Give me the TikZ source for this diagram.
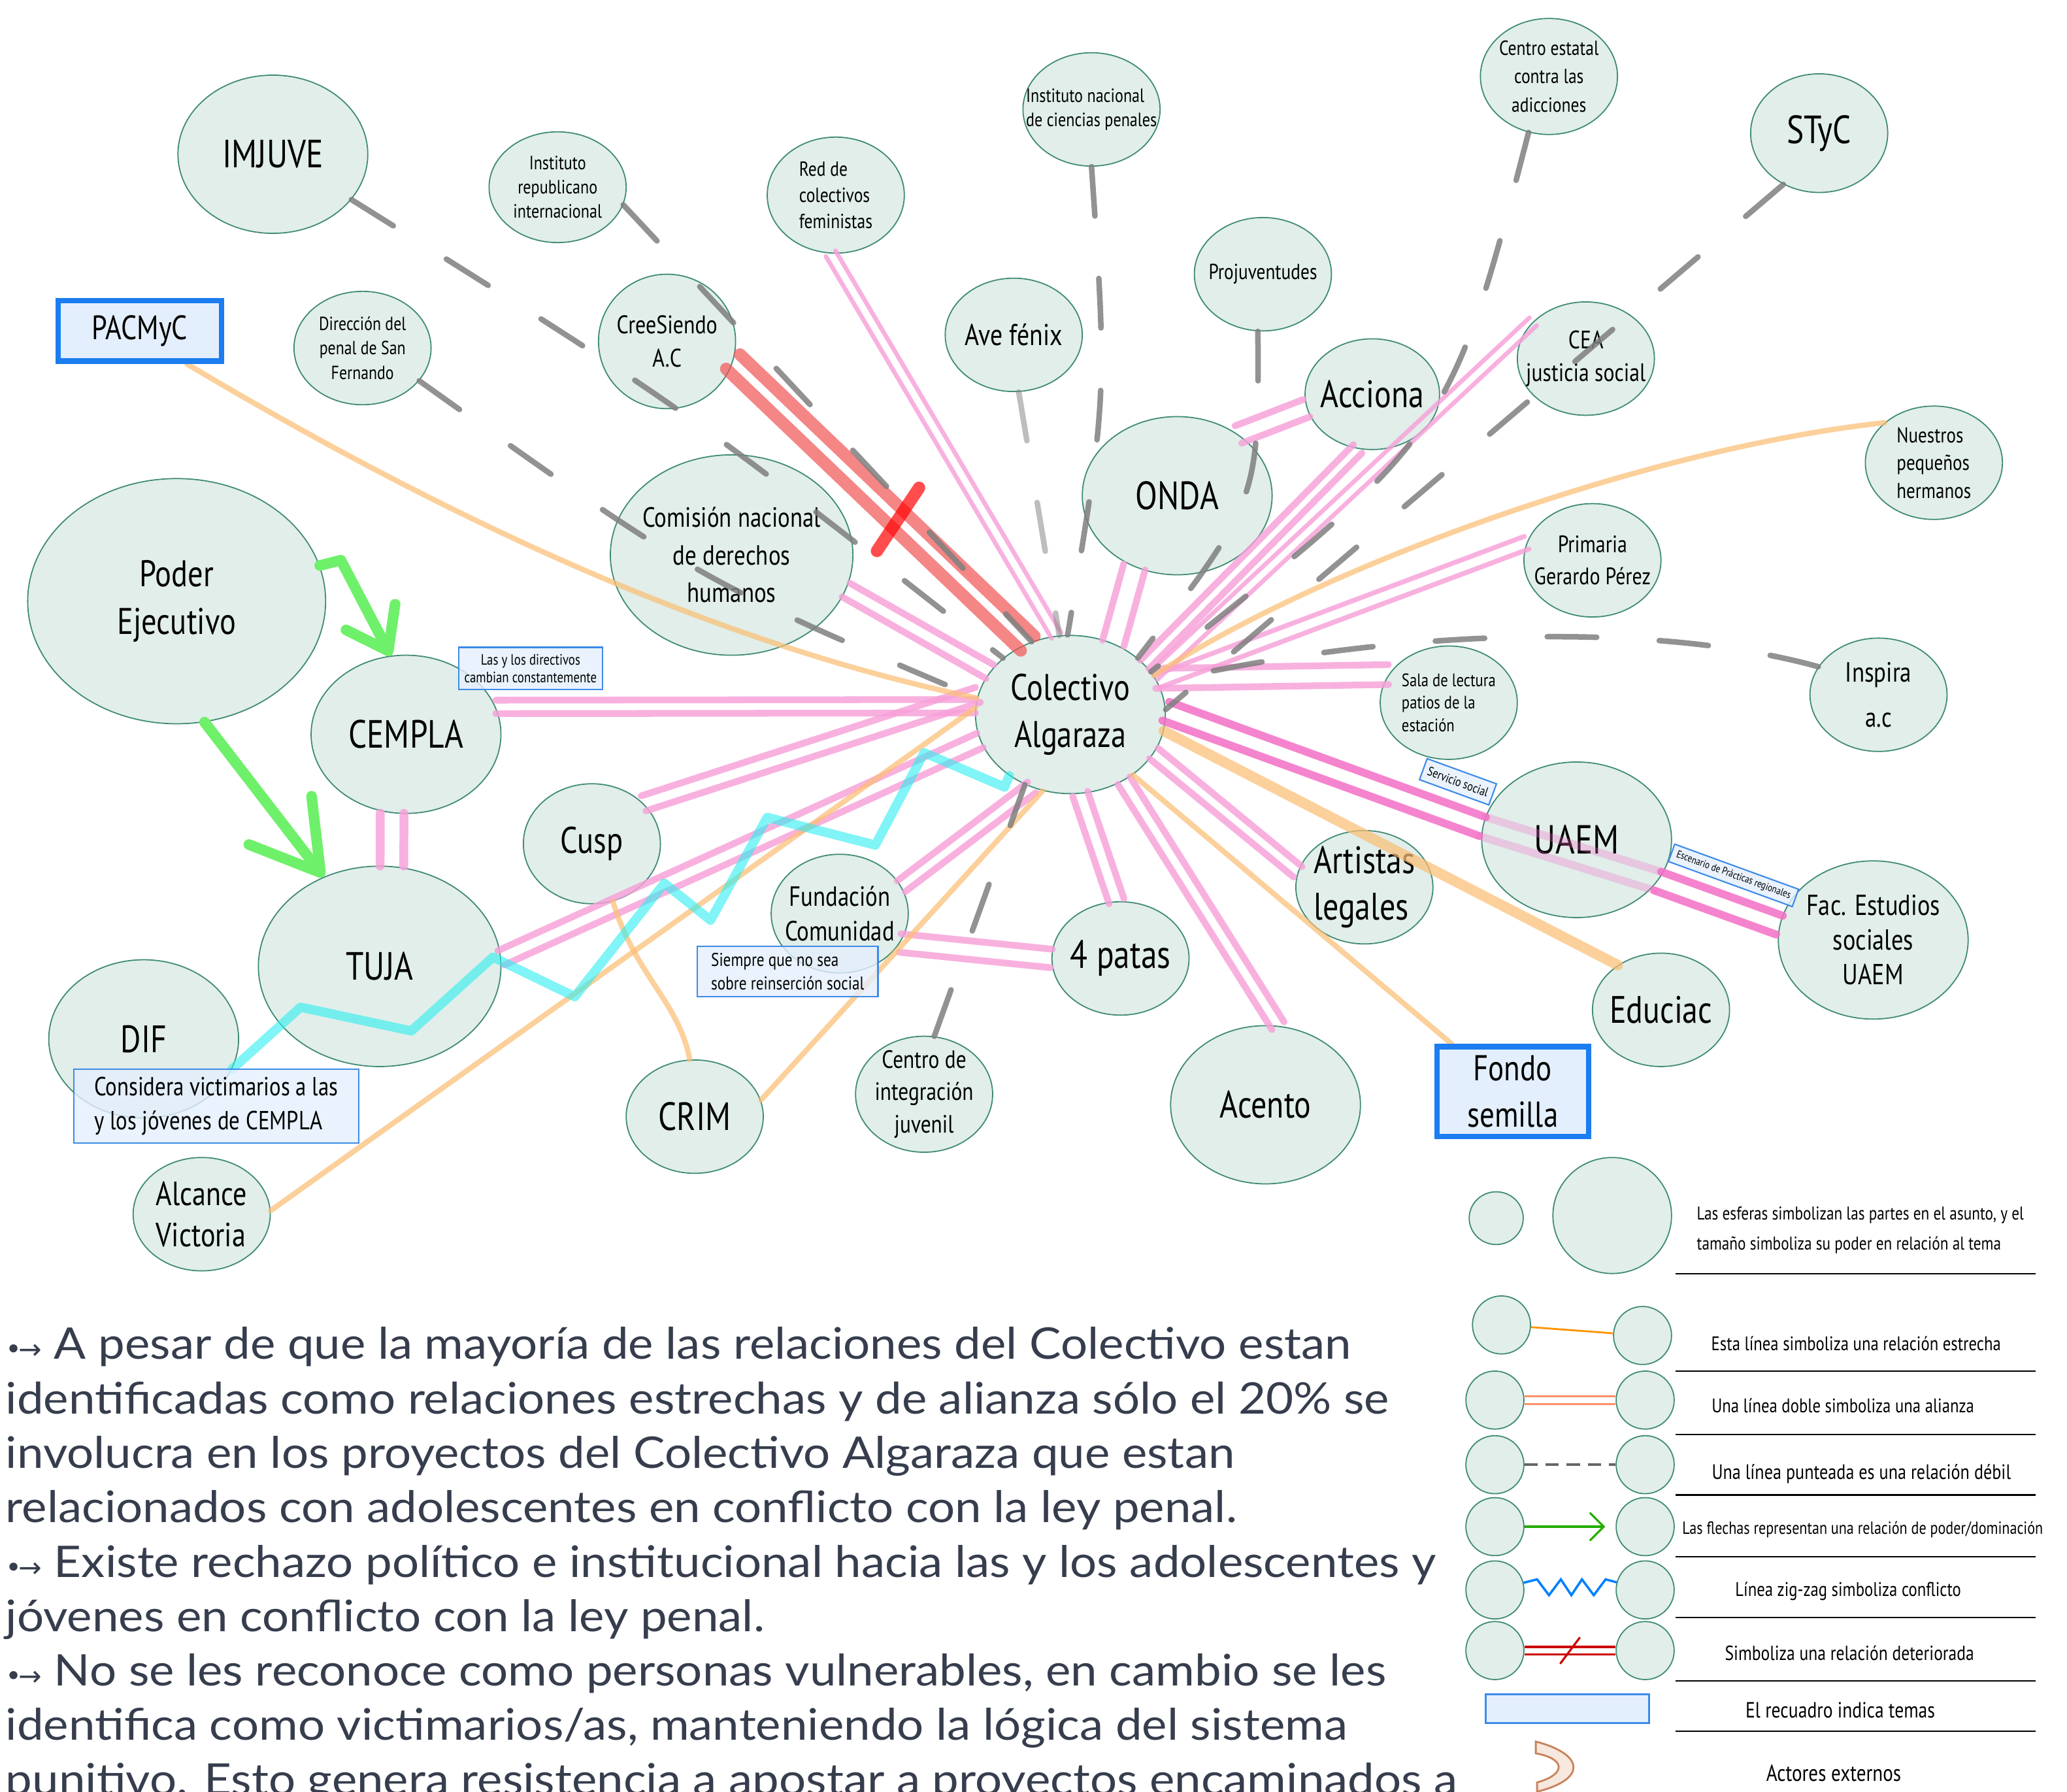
\documentclass[tikz,border=0pt]{standalone}
\usepackage{fontspec}
\setmainfont[FakeStretch=0.82]{PT Sans}
\newfontfamily\notafont[FakeStretch=1.09]{Lato}
\newfontfamily\flechafont{DejaVu Sans}
\usetikzlibrary{shapes.geometric,arrows.meta,calc}

\pgfdeclarelayer{front}
\pgfsetlayers{main,front}

\definecolor{nodefill}{HTML}{E1EEEA}
\definecolor{nodeline}{HTML}{3E8A74}
\definecolor{alipink}{HTML}{F7A1D9}
\definecolor{hotpink}{HTML}{F46FC6}
\definecolor{weakgray}{HTML}{7F7F7F}
\definecolor{closeorange}{HTML}{FBBF75}
\definecolor{powergreen}{HTML}{6EF06A}
\definecolor{conflictcyan}{HTML}{2CEEF0}
\definecolor{brokenred}{HTML}{F25454}
\definecolor{topicfill}{HTML}{E4EFFD}
\definecolor{topicline}{HTML}{3D8BE8}
\definecolor{strongblue}{HTML}{1B7DF0}
\definecolor{textgray}{HTML}{363D4D}
\definecolor{crescentfill}{HTML}{F6E8DE}
\definecolor{crescentline}{HTML}{C9825A}

% two parallel strokes between two points
\newcommand{\twin}[4]{%
  \path let \p1=($(#3)-(#2)$), \n1={atan2(\y1,\x1)} in \pgfextra{\xdef\twinang{\n1}};
  \draw[#1,transform canvas={shift={(\twinang+90:#4)}}] (#2) -- (#3);
  \draw[#1,transform canvas={shift={(\twinang-90:#4)}}] (#2) -- (#3);
}
\newcommand{\flechita}{{\flechafont\fontsize{12}{12}\selectfont •\kern-.12em→}}

\begin{document}
\begin{tikzpicture}[x=0.02cm, y=-0.02cm,
    actor/.style={ellipse, draw=nodeline, line width=0.5pt, fill=nodefill, inner sep=-12pt, align=center},
    esf/.style 2 args={actor, minimum width=#1*0.02cm, minimum height=#2*0.02cm},
    fs/.style 2 args={font=\fontsize{#1}{#2}\selectfont},
    tema/.style={rectangle, draw=topicline, line width=0.6pt, fill=topicfill, fill opacity=0.8, text opacity=1, inner sep=1pt, align=center},
    temafuerte/.style={tema, draw=strongblue, line width=2.4pt, fill opacity=1},
    alianza/.style={draw=alipink, line width=2.9pt, line cap=round, draw opacity=0.82},
    estrecha/.style={draw=closeorange, line width=2.3pt, line cap=round, draw opacity=0.72},
    debil/.style={draw=weakgray, line width=2.4pt, line cap=round, dash pattern=on 0.75cm off 0.95cm, draw opacity=0.85},
    poder/.style={draw=powergreen, line width=4.6pt, line cap=round, line join=round},
    conflicto/.style={draw=conflictcyan, line width=4pt, line cap=round, line join=round, draw opacity=0.6},
    deteriorada/.style={draw=brokenred, line width=5.3pt, line cap=round, draw opacity=0.7},
    nota/.style={font=\notafont\fontsize{18.8}{22}\selectfont, text=textgray, inner sep=0pt}]

  \fill[white] (0,0) rectangle (1568,1359);
  \useasboundingbox (0,0) rectangle (1568,1359);

  % actores
  \node[esf={144}{120}, fs={17}{21}] (imj) at (207,117) {IMJUVE};
  \node[esf={104}{84}, fs={8.3}{10.5}] (irep) at (423,142) {Instituto\\republicano\\internacional};
  \node[esf={104}{88}, fs={8.8}{11.4}, align=left] (red) at (634,148) {Red de\\colectivos\\feministas};
  \node[esf={104}{86}, fs={8.3}{10.3}, align=left] (inac) at (828,83) {Instituto nacional\\de ciencias penales};
  \node[esf={104}{88}, fs={8.8}{12.2}] (cest) at (1175,58) {Centro estatal\\contra las\\adicciones};
  \node[esf={104}{90}, fs={17}{21}] (styc) at (1380,101) {STyC};
  \node[esf={104}{86}, fs={9.4}{12}] (proj) at (958,208) {Projuventudes};
  \node[esf={104}{86}, fs={13}{16}] (avef) at (769,254) {Ave fénix};
  \node[esf={104}{102}, fs={11}{14.2}] (cree) at (506,259) {CreeSiendo\\A.C};
  \node[esf={104}{86}, fs={8.2}{10.5}] (dir) at (275,264) {Dirección del\\penal de San\\Fernando};
  \node[esf={102}{84}, fs={16.5}{20}] (acc) at (1041,299) {Acciona};
  \node[esf={104}{86}, fs={10.9}{14.2}] (cea) at (1203,272) {CEA\\justicia social};
  \node[esf={144}{120}, fs={17}{21}] (onda) at (893,376) {ONDA};
  \node[esf={184}{152}, fs={12}{16.2}] (com) at (555,421) {Comisión nacional\\de derechos\\humanos};
  \node[esf={226}{186}, fs={16}{20.5}] (pe) at (134,456) {Poder\\Ejecutivo};
  \node[esf={104}{86}, fs={9.3}{12}, align=left] (nph) at (1467,351) {Nuestros\\pequeños\\hermanos};
  \node[esf={104}{86}, fs={10.3}{13.7}] (prim) at (1208,425) {Primaria\\Gerardo Pérez};
  \node[esf={144}{120}, fs={16}{20.5}] (col) at (812,542) {Colectivo\\Algaraza};
  \node[esf={104}{86}, fs={7.8}{9.7}, align=left] (sala) at (1099,533) {Sala de lectura\\patios de la\\estación};
  \node[esf={104}{86}, fs={12}{19.4}] (insp) at (1425,527) {Inspira\\a.c};
  \node[esf={144}{120}, fs={17}{21}] (cempla) at (308,557) {CEMPLA};
  \node[esf={104}{91}, fs={16}{20}] (cusp) at (449,640) {Cusp};
  \node[esf={144}{118}, fs={17.5}{21}] (uaem) at (1196,637) {UAEM};
  \node[esf={104}{90}, fs={12}{14.8}] (fund) at (637,693) {Fundación\\Comunidad};
  \node[esf={104}{86}, fs={17}{21}] (patas) at (850,727) {4 patas};
  \node[esf={104}{86}, fs={16.5}{20}, align=left] (art) at (1035,673) {Artistas\\legales};
  \node[esf={144}{120}, fs={12.5}{15}] (fac) at (1421,713) {Fac. Estudios\\sociales\\UAEM};
  \node[esf={184}{152}, fs={17}{21}] (tuja) at (288,733) {TUJA};
  \node[esf={104}{86}, fs={16.5}{20}] (educ) at (1260,766) {Educiac};
  \node[esf={144}{120}, fs={16.5}{20}] (dif) at (109,788) {DIF};
  \node[esf={104}{88}, fs={10.8}{14}] (cint) at (701,830) {Centro de\\integración\\juvenil};
  \node[esf={104}{86}, fs={17}{21}] (crim) at (527,847) {CRIM};
  \node[esf={144}{120}, fs={16.5}{20}] (acento) at (960,838) {Acento};
  \node[esf={104}{86}, fs={14.5}{17.6}, align=left] (alc) at (153,921) {Alcance\\Victoria};

  % temas
  \begin{pgfonlayer}{front}
    \node[temafuerte, minimum width=2.48cm, minimum height=0.92cm, fs={14.6}{17}] (pac) at (106,251) {PACMyC};
    \node[temafuerte, minimum width=2.3cm, minimum height=1.36cm, fs={15.5}{20}] (fondo) at (1147.5,828) {Fondo\\semilla};
    \node[tema, minimum width=2.18cm, minimum height=0.64cm, fs={6.5}{7.6}] (dirbox) at (402.5,507) {Las y los directivos\\cambian constantemente};
    \node[tema, minimum width=2.74cm, minimum height=0.76cm, fs={8}{10.2}, align=left] (reins) at (597.5,737) {Siempre que no sea\\sobre reinserción social};
    \node[tema, minimum width=4.32cm, minimum height=1.12cm, fs={11.3}{14.8}, align=left] (vict) at (164,839) {Considera victimarios a las\\y los jóvenes de CEMPLA};
    \node[tema, rotate=-20, minimum width=1.12cm, minimum height=0.34cm, fs={5.5}{6}] (servicio) at (1106,593) {Servicio social};
    \node[tema, rotate=-20, minimum width=2cm, minimum height=0.28cm, fs={4.5}{5}] (escenario) at (1315,664) {Escenario de Prácticas regionales};
  \end{pgfonlayer}

  % alianzas
  \twin{alianza, line width=1.9pt}{red.265}{col.100}{2.4pt}
  \twin{alianza}{cempla.17}{col.175}{2.9pt}
  \twin{alianza}{com.-17}{col.152}{3.4pt}
  \twin{alianza}{cusp.38}{col.168}{3.4pt}
  \twin{alianza}{tuja.4}{col.196}{3.4pt}
  \twin{alianza}{fund.24}{col.242}{2.9pt}
  \twin{alianza}{col.277}{patas.94}{3.4pt}
  \twin{alianza}{col.309}{acento.81}{3.1pt}
  \twin{alianza}{col.335}{art.167}{2.9pt}
  \twin{alianza}{onda.239}{col.59}{4.8pt}
  \twin{alianza}{acc.255}{col.34}{2.6pt}
  \twin{alianza, line width=1.9pt}{cea.145}{col.25}{2.3pt}
  \twin{alianza, line width=2.1pt}{prim.165}{col.21}{2.9pt}
  \twin{alianza}{sala.155}{col.23}{4.3pt}
  \twin{alianza, line width=3.8pt}{cempla.260}{tuja.83}{5.1pt}
  \twin{alianza}{fund.334}{patas.180}{4pt}
  \twin{alianza}{onda.45}{acc.192}{4pt}
  \twin{alianza, draw=hotpink, line width=3.4pt, draw opacity=0.85}{col.2}{uaem.172}{4.3pt}
  \twin{alianza, draw=hotpink, line width=3.4pt, draw opacity=0.3}{uaem.172}{uaem.333}{4.3pt}
  \twin{alianza, draw=hotpink, line width=3.4pt, draw opacity=0.85}{uaem.333}{fac.171}{4.3pt}

  % relaciones estrechas
  \draw[estrecha] (pac.-35) .. controls (350,400) and (550,490) .. (col.170);
  \draw[estrecha] (nph.141) .. controls (1250,340) and (1000,430) .. (col.25);
  \draw[estrecha] (alc.3) -- (col.176);
  \draw[estrecha] (cusp.290) .. controls (482,740) and (515,760) .. (crim.95);
  \draw[estrecha] (crim.14) -- (col.250);
  \draw[estrecha] (col.316) -- (fondo.142);
  \draw[estrecha, line width=4.5pt] (col.350) -- (educ.134);

  % relacion deteriorada
  \twin{deteriorada}{cree.343}{col.121}{4.3pt}
  \coordinate (corte) at ($(cree.343)!0.56!(col.121)$);
  \draw[deteriorada, draw=red] ($(corte)+(16,-24)$) -- ($(corte)+(-16,24)$);

  % relaciones debiles
  \draw[debil] (imj.330) .. controls (520,310) .. (col.140);
  \draw[debil] (irep.345) -- (col.118);
  \draw[debil] (dir.330) .. controls (530,440) .. (col.170);
  \draw[debil] (inac.south) .. controls (840,300) .. (col.92);
  \draw[debil, draw opacity=0.5] (avef.275) -- (col.98);
  \draw[debil] (proj.265) .. controls (955,380) .. (col.40);
  \draw[debil] (cest.250) .. controls (1100,330) .. (col.28);
  \draw[debil] (styc.235) -- (col.3);
  \draw[debil] (insp.155) .. controls (1250,470) and (1050,478) .. (col.20);
  \draw[debil] (cint.80) -- (col.237);

  % conflicto
  \draw[conflicto] (dif.-19) -- (228,764) -- (312,782) -- (374,726) -- (436,756) -- (504,670)
    -- (539,698) -- (582,620) -- (664,641) -- (701,571) -- (762,597) -- (col.225);

  % poder
  \draw[poder, -{Straight Barb[length=5.8mm, width=8.4mm, round]}] (pe.14) -- ++(16,-4) -- (cempla.101);
  \draw[poder, -{Straight Barb[length=10mm, width=12mm, round]}] (pe.283) -- (tuja.122);

  % leyenda
  \node[esf={41}{40}] (l1-a) at (1135,924) {};
  \node[esf={90}{88}] (l1-b) at (1223,922) {};
  \node[esf={44}{44}] (l2-a) at (1139,1005) {};
  \node[esf={44}{44}] (l2-b) at (1246,1013) {};
  \foreach \fila/\ya in {3/1062,4/1111,5/1158,6/1206,7/1252} {
    \node[esf={44}{44}] (l\fila-a) at (1134,\ya) {};
    \node[esf={44}{44}] (l\fila-b) at (1248,\ya) {};
  }
  \draw[draw=orange!85!yellow, line width=0.8pt] (l2-a) -- (l2-b);
  \twin{draw=red!45!orange!60, line width=0.8pt}{l3-a}{l3-b}{1.7pt}
  \draw[draw=black!60, line width=1.1pt, dash pattern=on 0.2cm off 0.12cm] (l4-a) -- (l4-b);
  \draw[draw=green!60!black!80!lime, line width=0.9pt, shorten >=4.5pt,
    -{Straight Barb[length=2.1mm, width=4.2mm]}] (l5-a) -- (l5-b);
  \draw[draw=blue!50!cyan, line width=1pt] (l6-a) -- (1166,1198) -- (1175,1210) -- (1184,1198)
    -- (1192,1210) -- (1200,1198) -- (1209,1210) -- (1218,1198) -- (l6-b);
  \twin{draw=red!80!black, line width=0.9pt}{l7-a}{l7-b}{1.6pt}
  \draw[draw=red!80!black, line width=0.9pt] ($(l7-a)!0.5!(l7-b)$) ++(-7.5,10) -- ++(15,-20);
  \node[tema, fill opacity=1, line width=0.9pt, minimum width=2.48cm, minimum height=0.44cm] (l8) at (1189,1296) {};
  \filldraw[fill=crescentfill, draw=crescentline, line width=0.8pt] (1165,1321) .. controls (1203,1331) and (1203,1350) .. (1166,1359)
    -- (1166,1352) .. controls (1188,1346) and (1188,1334) .. (1165,1330) -- cycle;

  \foreach \yy in {966,1040,1088,1134,1181,1227,1275,1313}
    \draw[line width=0.6pt] (1271,\yy) -- (1544,\yy);

  \node[fs={8}{13}, align=left, anchor=west] (t1) at (1281,933) {Las esferas simbolizan las partes en el asunto, y el\\tamaño simboliza su poder en relación al tema};
  \node[fs={8.5}{10}] (t2) at (1408,1019) {Esta línea simboliza una relación estrecha};
  \node[fs={8.5}{10}] (t3) at (1398,1066) {Una línea doble simboliza una alianza};
  \node[fs={9}{10}] (t4) at (1412,1118) {Una línea punteada es una relación débil};
  \node[fs={7.6}{10}] (t5) at (1413,1160) {Las flechas representan una relación de poder/dominación};
  \node[fs={8.5}{10}] (t6) at (1402,1207) {Línea zig-zag simboliza conflicto};
  \node[fs={8.8}{10}] (t7) at (1403,1254) {Simboliza una relación deteriorada};
  \node[fs={9.5}{11}] (t8) at (1396,1297) {El recuadro indica temas};
  \node[fs={10}{12}] (t9) at (1391,1345) {Actores externos};

  % conclusiones
  \foreach \linea [count=\k] in {%
      {\flechita\ A pesar de que la mayoría de las relaciones del Colectivo estan},
      {identificadas como relaciones estrechas y de alianza sólo el 20\% se},
      {involucra en los proyectos del Colectivo Algaraza que estan},
      {relacionados con adolescentes en conflicto con la ley penal.},
      {\flechita\ Existe rechazo político e institucional hacia las y los adolescentes y},
      {jóvenes en conflicto con la ley penal.},
      {\flechita\ No se les reconoce como personas vulnerables, en cambio se les},
      {identifica como victimarios/as, manteniendo la lógica del sistema},
      {punitivo. Esto genera resistencia a apostar a proyectos encaminados a}}
    \node[nota, anchor=base west] (nota\k) at (4,{1031+41.3*(\k-1)}) {\linea};
\end{tikzpicture}
\end{document}
